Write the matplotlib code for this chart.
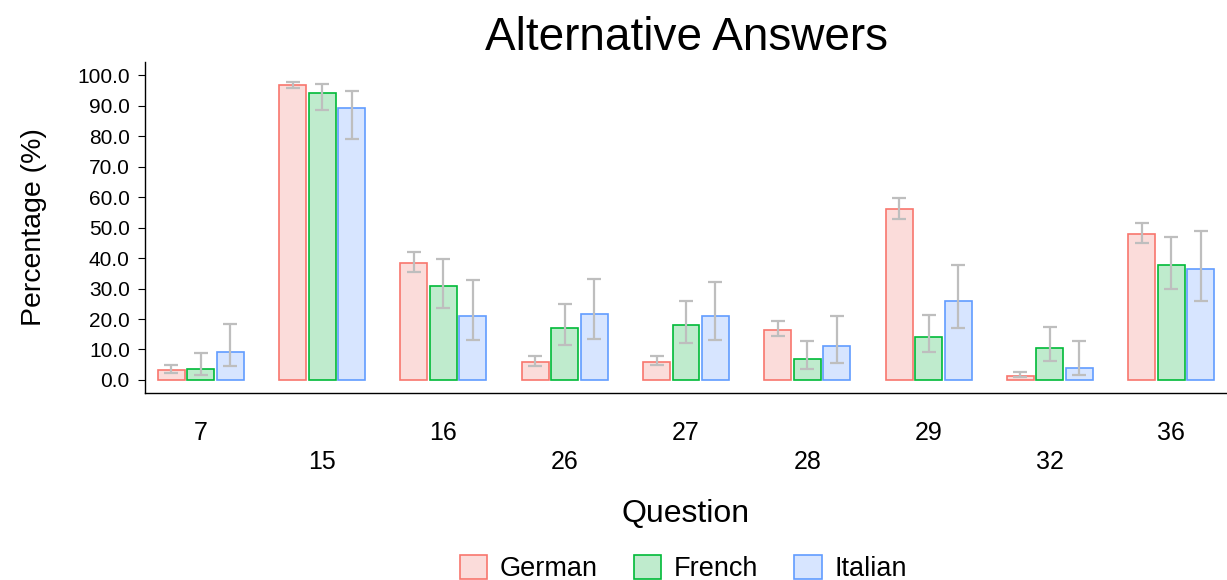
import numpy as np
import matplotlib
matplotlib.use("Agg")
from matplotlib import pyplot as plt
from matplotlib.patches import Patch

plt.rcParams['font.family'] = ['Liberation Sans', 'DejaVu Sans']

# data
questions = ["7", "15", "16", "26", "27", "28", "29", "32", "36"]
languages = ["German", "French", "Italian"]

german = [3.2, 97.0, 38.5, 6.0, 6.0, 16.5, 56.3, 1.2, 48.0]
german_lo = [2.3, 96.0, 35.5, 4.6, 5.0, 14.5, 53.0, 0.8, 45.0]
german_hi = [4.8, 98.0, 42.0, 7.8, 8.0, 19.5, 59.8, 2.5, 51.5]

french = [3.5, 94.2, 31.0, 17.0, 18.0, 6.8, 14.0, 10.6, 37.8]
french_lo = [1.5, 88.5, 23.5, 11.5, 12.0, 3.5, 9.3, 6.3, 30.0]
french_hi = [8.8, 97.3, 39.8, 25.0, 26.0, 12.8, 21.3, 17.5, 47.0]

italian = [9.2, 89.2, 21.0, 21.5, 21.0, 11.0, 25.8, 4.0, 36.5]
italian_lo = [4.5, 79.0, 13.0, 13.5, 13.0, 5.5, 17.0, 1.5, 26.0]
italian_hi = [18.3, 95.0, 32.8, 33.3, 32.3, 21.0, 37.8, 12.8, 49.0]

edge_colors = ["#F8766D", "#00BA38", "#619CFF"]
fill_colors = ["#FBDCDA", "#BFEBCD", "#D7E5FF"]

series = [(german, german_lo, german_hi),
          (french, french_lo, french_hi),
          (italian, italian_lo, italian_hi)]

fig = plt.figure(figsize=(12.27, 5.8), dpi=100)
ax = fig.add_axes([0.1182, 0.3224, 0.8818, 0.5706])

x = np.arange(len(questions))
step = 0.243
width = 0.222
for i, (vals, lo, hi) in enumerate(series):
    pos = x + (i - 1) * step
    vals = np.array(vals)
    ax.bar(pos, vals, width=width, color=fill_colors[i], edgecolor=edge_colors[i],
           linewidth=1.2, zorder=2)
    yerr = [vals - np.array(lo), np.array(hi) - vals]
    ax.errorbar(pos, vals, yerr=yerr, fmt='none', ecolor='#BEBEBE',
                elinewidth=1.6, capsize=5, capthick=1.6, zorder=3)

ax.set_xlim(-0.46, 8.46)
ax.set_ylim(-4.3, 104.4)
ax.set_yticks(np.arange(0, 101, 10))
ax.set_yticklabels([f"{v:.1f}" for v in np.arange(0, 101, 10)], fontsize=15)
ax.set_xticks(x)
# alternate labels on two rows
ax.set_xticklabels([q if k % 2 == 0 else "\n" + q for k, q in enumerate(questions)],
                   fontsize=18, linespacing=1.3)
ax.tick_params(axis='x', length=0, pad=20)
ax.tick_params(axis='y', length=5, width=0.8, pad=6)

for s in ['top', 'right']:
    ax.spines[s].set_visible(False)
for s in ['left', 'bottom']:
    ax.spines[s].set_linewidth(1.0)

ax.set_ylabel("Percentage (%)", fontsize=20.5, labelpad=22)
ax.set_xlabel("Question", fontsize=23, labelpad=18)
ax.set_title("Alternative Answers", fontsize=33, pad=9)

handles = [Patch(facecolor=fill_colors[i], edgecolor=edge_colors[i], linewidth=1.2,
                 label=languages[i]) for i in range(3)]
fig.legend(handles=handles, loc='lower center', ncol=3, frameon=False, fontsize=19.5,
           bbox_to_anchor=(0.557, -0.046), handlelength=1.0, handleheight=1.0,
           columnspacing=1.33, handletextpad=0.48)

fig.savefig("out.png", dpi=100)
